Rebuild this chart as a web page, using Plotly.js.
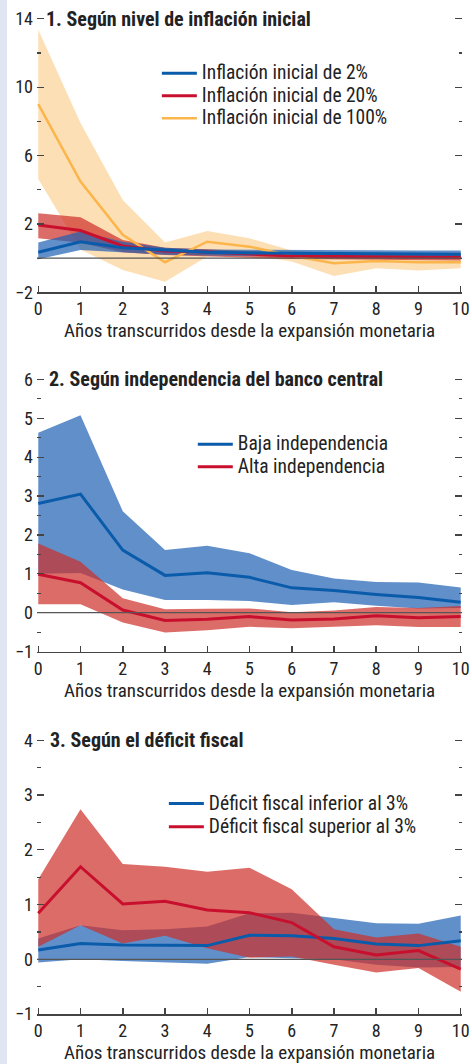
<!DOCTYPE html>
<html><head><meta charset="utf-8">
<script src="https://cdn.plot.ly/plotly-3.0.1.min.js"></script>
<style>
html,body{margin:0;padding:0;background:#fff;}
#wrap{position:relative;width:472px;height:1064px;background:linear-gradient(to right,#dfe6f1 0,#dfe6f1 7px,#fff 7px);}
#chart{width:472px;height:1064px;}
</style></head><body><div id="wrap"><div id="chart"></div></div>
<script>
const years = [0,1,2,3,4,5,6,7,8,9,10];
const xTickLabels = ['0','1','2','3','4','5','6','7','8','9','10'];
const xTitle = 'Años transcurridos desde la expansión monetaria';

// Panel 1: Según nivel de inflación inicial
const p1Title = '1. Según nivel de inflación inicial';
const p1Names = ['Inflación inicial de 2%','Inflación inicial de 20%','Inflación inicial de 100%'];
const inf2Mid = [0.34,0.96,0.61,0.48,0.34,0.30,0.28,0.27,0.26,0.24,0.22];
const inf2Up  = [0.91,1.55,0.96,0.61,0.50,0.48,0.47,0.47,0.46,0.45,0.45];
const inf2Lo  = [-0.07,0.48,0.34,0.20,0.15,0.10,0.08,0.06,0.05,0.04,0.02];
const inf20Mid = [1.94,1.61,0.71,0.42,0.36,0.22,0.12,0.09,0.08,0.06,0.05];
const inf20Up  = [2.63,2.39,1.06,0.61,0.52,0.40,0.30,0.28,0.28,0.27,0.27];
const inf20Lo  = [1.16,0.90,0.34,0.18,0.12,0.02,-0.05,-0.08,-0.10,-0.12,-0.14];
const inf100Mid = [9.0,4.48,1.36,-0.24,0.96,0.67,0.13,-0.30,-0.17,-0.24,-0.24];
const inf100Up  = [13.36,7.9,3.4,0.91,1.59,1.16,0.44,0.28,0.30,0.30,0.32];
const inf100Lo  = [4.62,0.5,-0.69,-1.38,0.10,0.18,-0.20,-1.04,-0.60,-0.73,-0.60];

// Panel 2: Según independencia del banco central
const p2Title = '2. Según independencia del banco central';
const p2Names = ['Baja independencia','Alta independencia'];
const bajaMid = [2.81,3.05,1.61,0.96,1.03,0.91,0.64,0.57,0.47,0.39,0.27];
const bajaUp  = [4.63,5.08,2.61,1.61,1.72,1.53,1.10,0.88,0.79,0.78,0.65];
const bajaLo  = [1.00,1.02,0.60,0.33,0.33,0.30,0.20,0.27,0.18,0.11,0.12];
const altaMid = [0.99,0.77,0.07,-0.20,-0.17,-0.10,-0.19,-0.16,-0.08,-0.13,-0.10];
const altaUp  = [1.78,1.31,0.37,0.09,0.10,0.11,0.01,0.06,0.15,0.12,0.17];
const altaLo  = [0.22,0.22,-0.25,-0.51,-0.45,-0.36,-0.40,-0.36,-0.32,-0.37,-0.37];

// Panel 3: Según el déficit fiscal
const p3Title = '3. Según el déficit fiscal';
const p3Names = ['Déficit fiscal inferior al 3%','Déficit fiscal superior al 3%'];
const infMid = [0.17,0.29,0.26,0.25,0.25,0.44,0.43,0.38,0.28,0.25,0.34];
const infUp  = [0.38,0.62,0.53,0.55,0.60,0.84,0.85,0.75,0.66,0.65,0.80];
const infLo  = [-0.06,0.00,-0.03,-0.06,-0.08,0.04,0.02,0.00,-0.10,-0.15,-0.14];
const supMid = [0.84,1.69,1.01,1.06,0.90,0.85,0.67,0.23,0.08,0.16,-0.18];
const supUp  = [1.46,2.74,1.74,1.69,1.60,1.67,1.28,0.55,0.40,0.47,0.23];
const supLo  = [0.23,0.62,0.29,0.43,0.20,0.03,0.05,-0.10,-0.24,-0.16,-0.59];

const FONT = "'Liberation Sans Narrow','Arial Narrow','Roboto Condensed','DejaVu Sans Condensed',Roboto,sans-serif";
const BLUE = '#0a5cab', RED = '#c8102e', YEL = '#fbb54a';
const BLUE_F = 'rgba(30,95,180,0.70)', RED_F = 'rgba(205,45,40,0.70)', YEL_F = 'rgba(251,185,90,0.45)';
const LEGEND_TEXT_PX = 19.5;

function band(up, lo, fill, xa, ya){
  return {x: years.concat(years.slice().reverse()), y: up.concat(lo.slice().reverse()),
    type:'scatter', mode:'lines', fill:'toself', fillcolor: fill, line:{width:0},
    xaxis: xa, yaxis: ya, showlegend:false, hoverinfo:'skip'};
}
function line(y, color, w, name, xa, ya, leg, rank){
  return {x: years, y: y, type:'scatter', mode:'lines',
    name: '<span style="font-size:'+LEGEND_TEXT_PX+'px">'+name+'</span>',
    line:{color: color, width: w}, xaxis: xa, yaxis: ya, legend: leg, legendrank: rank};
}

const data = [
  band(inf100Up, inf100Lo, YEL_F, 'x', 'y'),
  band(inf20Up, inf20Lo, RED_F, 'x', 'y'),
  band(inf2Up, inf2Lo, BLUE_F, 'x', 'y'),
  line(inf100Mid, YEL, 2.5, p1Names[2], 'x', 'y', 'legend', 3),
  line(inf20Mid, RED, 3, p1Names[1], 'x', 'y', 'legend', 2),
  line(inf2Mid, BLUE, 3, p1Names[0], 'x', 'y', 'legend', 1),

  band(bajaUp, bajaLo, BLUE_F, 'x2', 'y2'),
  band(altaUp, altaLo, RED_F, 'x2', 'y2'),
  line(bajaMid, BLUE, 3, p2Names[0], 'x2', 'y2', 'legend2', 1),
  line(altaMid, RED, 3, p2Names[1], 'x2', 'y2', 'legend2', 2),

  band(infUp, infLo, BLUE_F, 'x3', 'y3'),
  band(supUp, supLo, RED_F, 'x3', 'y3'),
  line(infMid, BLUE, 3, p3Names[0], 'x3', 'y3', 'legend3', 1),
  line(supMid, RED, 3, p3Names[1], 'x3', 'y3', 'legend3', 2)
];

const axColor = '#444';
function xax(anchor){
  return {domain:[0,1], anchor: anchor, range:[-0.03,10.03], tickvals: years, ticktext: xTickLabels,
    ticks:'inside', ticklen:6, tickwidth:1.5, tickcolor: axColor, showline:true, linecolor: axColor,
    linewidth:1.5, showgrid:false, zeroline:false, tickfont:{size:18, color:'#222', family:FONT},
    fixedrange:true};
}
function yax(anchor, dom, rng, dtick, tick0, minorDt){
  return {domain: dom, anchor: anchor, range: rng, dtick: dtick, tick0: tick0,
    ticks:'inside', ticklen:7, tickwidth:1.2, tickcolor: axColor, mirror:'ticks', ticklabelstandoff:3,
    minor:{ticks:'inside', ticklen:3.5, tickwidth:1.2, tickcolor: axColor, dtick: minorDt, tick0: tick0},
    showline:false, showgrid:false, zeroline:false,
    tickfont:{size:18, color:'#222', family:FONT}, fixedrange:true};
}
function leg(x, y, fs){
  return {x: x, y: y, xanchor:'left', yanchor:'top', bgcolor:'rgba(0,0,0,0)', borderwidth:0,
    font:{size:fs, color:'#222', family:FONT}, traceorder:'normal', tracegroupgap:0, itemwidth:35};
}
function title(txt, ya, yv, xs){
  return {text: '<b>'+txt+'</b>', xref:'paper', x:0, xshift: xs, xanchor:'left', yref: ya, y: yv,
    yanchor:'middle', showarrow:false, font:{size:20, color:'#222', family:FONT}};
}
function xtitle(ya, ys){
  return {text: xTitle, xref:'paper', x:0.5, xanchor:'center', yref: ya+' domain', y:0, yshift: ys,
    yanchor:'middle', showarrow:false, font:{size:19, color:'#222', family:FONT}};
}
function zero(xa, ya){
  return {type:'line', xref: xa+' domain', x0:0, x1:1, yref: ya, y0:0, y1:0,
    line:{color:'#555', width:1.2}, layer:'above'};
}

const layout = {
  width:472, height:1064, margin:{l:36.7, r:9.7, t:0, b:0},
  paper_bgcolor:'rgba(0,0,0,0)', plot_bgcolor:'rgba(0,0,0,0)',
  font:{family: FONT, color:'#222'},
  showlegend:true,
  xaxis: xax('y'), yaxis: yax('x', [0.72528,0.98403], [-2,14.1], 4, 2, 2),
  xaxis2: xax('y2'), yaxis2: yax('x2', [0.38759,0.64525], [-1,6.05], 1, 0, 0.5),
  xaxis3: xax('y3'), yaxis3: yax('x3', [0.04690,0.30639], [-1,4.04], 1, 0, 0.5),
  legend: leg(0.282, 0.9464, 15),
  legend2: leg(0.3666, 0.5977, 15),
  legend3: leg(0.2985, 0.2603, 15.5),
  annotations: [
    title(p1Title, 'y', 14, 7),
    title(p2Title, 'y2', 6, 10),
    title(p3Title, 'y3', 4, 11),
    xtitle('y', -38), xtitle('y2', -38.5), xtitle('y3', -38.5)
  ],
  shapes: [zero('x','y'), zero('x2','y2'), zero('x3','y3')]
};

Plotly.newPlot('chart', data, layout, {staticPlot:true, displayModeBar:false});
</script></body></html>
